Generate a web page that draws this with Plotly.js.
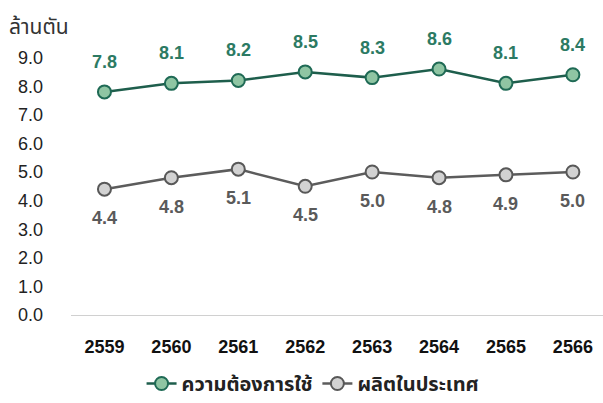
<!DOCTYPE html>
<html>
<head>
<meta charset="utf-8">
<script src="https://cdn.plot.ly/plotly-3.0.1.min.js"></script>
<style>html,body{margin:0;padding:0;background:#fff;}#chart{width:603px;height:403px;}</style>
</head>
<body>
<div id="chart"></div>
<script>
var years = ['2559','2560','2561','2562','2563','2564','2565','2566'];
var demand = [7.8, 8.1, 8.2, 8.5, 8.3, 8.6, 8.1, 8.4];
var production = [4.4, 4.8, 5.1, 4.5, 5.0, 4.8, 4.9, 5.0];
var yTicks = [0,1,2,3,4,5,6,7,8,9];
var demandName = 'ความต้องการใช้';
var productionName = 'ผลิตในประเทศ';
var unitLabel = 'ล้านตัน';

var fontFam = '"Liberation Sans", Arial, "Noto Sans Thai", "Noto Sans", sans-serif';
var greenText = '#2c7a63';
var greyText = '#5a5a5a';

var traces = [
  {
    x: years, y: demand, name: demandName, type: 'scatter', mode: 'lines+markers',
    line: {color: '#1e5e4c', width: 2.5},
    marker: {size: 13, color: '#8fc5a3', line: {color: '#1f6a55', width: 2}}
  },
  {
    x: years, y: production, name: productionName, type: 'scatter', mode: 'lines+markers',
    line: {color: '#5c5c5c', width: 2.5},
    marker: {size: 13, color: '#d2d2d2', line: {color: '#585858', width: 2}}
  }
];

var annotations = [];
for (var i = 0; i < years.length; i++) {
  annotations.push({xref: 'x', yref: 'y', x: i, y: demand[i], text: demand[i].toFixed(1), showarrow: false,
    yshift: 30, font: {family: fontFam, size: 18, color: greenText, weight: 'bold'}});
  annotations.push({xref: 'x', yref: 'y', x: i, y: production[i], text: production[i].toFixed(1), showarrow: false,
    yshift: -29, font: {family: fontFam, size: 18, color: greyText, weight: 'bold'}});
}

var layout = {
  width: 603, height: 403,
  margin: {l: 71, r: 0, t: 29, b: 88, autoexpand: false},
  paper_bgcolor: '#fff', plot_bgcolor: '#fff',
  font: {family: fontFam, color: '#222'},
  title: {text: unitLabel, x: 0.015, xanchor: 'left', y: 0.935, yanchor: 'middle',
    font: {family: fontFam, size: 21, color: '#333'}},
  xaxis: {type: 'category', range: [-0.5, 7.45], showgrid: false, zeroline: false, automargin: false,
    showline: false, ticks: '', tickfont: {family: fontFam, size: 18, color: '#111', weight: 'bold'},
    ticklabelstandoff: 19},
  yaxis: {range: [0, 10], tickvals: yTicks, tickformat: '.1f', showgrid: false, automargin: false,
    zeroline: true, zerolinecolor: '#d0d0d0', zerolinewidth: 1, showline: false, ticks: '',
    tickfont: {family: fontFam, size: 18, color: '#222'}, ticklabelstandoff: 27},
  showlegend: true,
  legend: {orientation: 'h', x: 0.455, xanchor: 'center', yref: 'container', y: 0.0, yanchor: 'bottom',
    font: {family: fontFam, size: 20, color: '#222', weight: 'bold'}, itemwidth: 30},
  annotations: annotations
};

Plotly.newPlot('chart', traces, layout, {displayModeBar: false, staticPlot: true});
</script>
</body>
</html>
